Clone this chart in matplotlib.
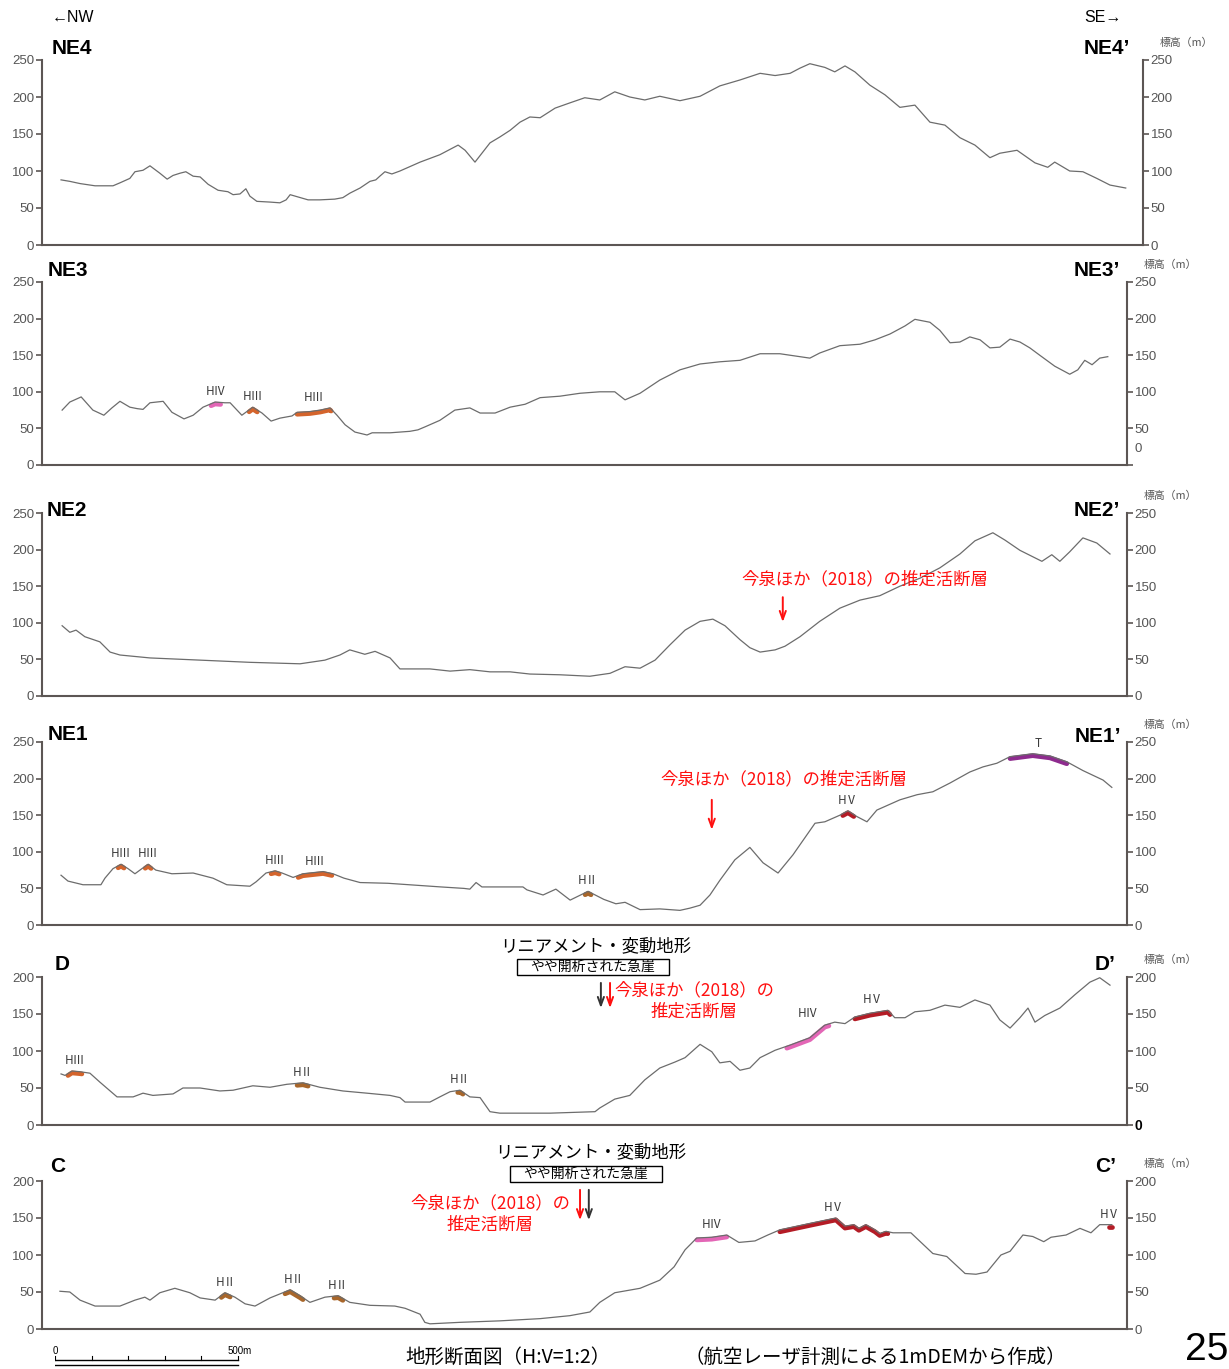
import numpy as np
import matplotlib
matplotlib.use("Agg")
import matplotlib.pyplot as plt
from matplotlib.patches import Rectangle
from matplotlib.transforms import offset_copy, ScaledTranslation

# ─── Section profiles: distance along line (m) / elevation (m) ───────
ne4_dist = [52, 76, 104, 145, 194, 213, 240, 254, 276, 295, 322, 342, 358, 377, 393,
            413, 432, 454, 481, 508, 522, 541, 557, 568, 587, 623, 650, 667, 678, 699,
            727, 759, 800, 822, 841, 869, 896, 912, 923, 937, 956, 978, 1033, 1087, 1137,
            1156, 1183, 1224, 1251, 1279, 1306, 1333, 1361, 1402, 1442, 1483, 1524, 1565,
            1606, 1647, 1688, 1743, 1798, 1852, 1907, 1962, 2003, 2044, 2071, 2098, 2139,
            2166, 2194, 2221, 2262, 2303, 2344, 2385, 2426, 2467, 2508, 2549, 2590, 2617,
            2664, 2713, 2748, 2767, 2808, 2844, 2882, 2918, 2961]
ne4_elev = [88, 86, 83, 80, 80, 84, 90, 99, 101, 107, 97, 89, 94, 97, 99,
            93, 92, 82, 74, 72, 68, 69, 76, 66, 59, 58, 57, 61, 68, 65,
            61, 61, 62, 64, 70, 77, 86, 88, 93, 99, 96, 100, 112, 122, 135,
            128, 112, 138, 146, 155, 166, 173, 172, 185, 192, 199, 196, 207,
            200, 196, 201, 195, 201, 215, 223, 232, 229, 232, 239, 245, 240,
            234, 242, 234, 216, 203, 186, 189, 166, 162, 145, 135, 118, 124,
            128, 111, 105, 112, 100, 99, 90, 81, 77]

ne3_dist = [55, 76, 107, 139, 169, 191, 213, 240, 260, 276, 295, 331, 355, 388, 413,
            440, 473, 500, 514, 546, 576, 601, 626, 650, 683, 697, 732, 760, 787, 806,
            828, 855, 888, 902, 951, 1005, 1027, 1046, 1087, 1128, 1169, 1197, 1238, 1279,
            1320, 1361, 1415, 1470, 1524, 1565, 1593, 1634, 1688, 1743, 1798, 1852, 1907,
            1962, 2016, 2057, 2098, 2125, 2180, 2235, 2276, 2317, 2358, 2385, 2426, 2453,
            2481, 2508, 2535, 2563, 2590, 2617, 2645, 2672, 2699, 2726, 2767, 2808, 2830,
            2849, 2869, 2890, 2912]
ne3_elev = [75, 86, 93, 75, 68, 78, 87, 79, 77, 76, 85, 87, 72, 63, 68,
            79, 86, 85, 85, 68, 79, 71, 60, 64, 67, 72, 73, 75, 78, 68,
            55, 45, 41, 44, 44, 46, 48, 52, 61, 75, 78, 71, 71, 79,
            83, 92, 94, 98, 100, 100, 89, 98, 116, 130, 138, 141, 143,
            152, 152, 149, 146, 153, 163, 165, 171, 179, 190, 199, 195, 184,
            167, 168, 175, 171, 160, 161, 172, 168, 160, 150, 135, 124, 130,
            143, 137, 146, 148]

ne2_dist = [55, 76, 93, 117, 158, 186, 213, 295, 432, 568, 705, 773, 814, 841, 882,
            910, 951, 978, 1060, 1115, 1169, 1224, 1279, 1333, 1415, 1497, 1552, 1593,
            1634, 1675, 1716, 1757, 1798, 1833, 1866, 1907, 1934, 1962, 2003, 2030, 2071,
            2125, 2180, 2235, 2289, 2344, 2399, 2453, 2508, 2549, 2598, 2631, 2672, 2732,
            2759, 2781, 2808, 2844, 2882, 2918]
ne2_elev = [96, 87, 90, 81, 74, 60, 56, 52, 49, 46, 44, 49, 56, 63, 57,
            61, 52, 37, 37, 34, 36, 33, 33, 30, 29, 27, 31, 40,
            38, 49, 70, 90, 102, 105, 96, 77, 66, 60, 63, 68, 81,
            102, 120, 131, 137, 150, 161, 175, 194, 212, 223, 213, 199, 184,
            193, 184, 197, 216, 209, 194]

ne1_dist = [52, 71, 112, 161, 172, 194, 216, 235, 254, 273, 290, 311, 355, 413, 467,
            505, 568, 585, 612, 637, 656, 686, 713, 768, 795, 825, 869, 945, 1003, 1090,
            1153, 1169, 1186, 1202, 1314, 1325, 1369, 1404, 1443, 1492, 1535, 1568, 1593,
            1634, 1688, 1743, 1770, 1798, 1825, 1852, 1893, 1934, 1970, 2011, 2052, 2112,
            2139, 2180, 2202, 2227, 2254, 2281, 2344, 2391, 2434, 2481, 2535, 2571, 2609,
            2645, 2707, 2754, 2800, 2844, 2899, 2923]
ne1_elev = [68, 60, 55, 55, 64, 77, 83, 77, 70, 77, 83, 75, 70, 71, 64,
            55, 53, 59, 71, 74, 71, 65, 70, 73, 70, 64, 58, 57, 55, 52,
            50, 49, 58, 52, 52, 48, 41, 49, 34, 46, 35, 29, 31,
            21, 22, 20, 23, 27, 41, 61, 89, 106, 85, 71, 96, 139,
            141, 150, 156, 148, 141, 157, 171, 178, 182, 194, 209, 216, 221,
            230, 234, 231, 223, 211, 198, 188]

d_dist = [52, 63, 82, 104, 131, 158, 205, 249, 276, 303, 358, 385, 432, 486, 522,
          576, 623, 669, 713, 759, 822, 888, 951, 978, 992, 1060, 1087, 1115, 1142, 1169,
          1197, 1224, 1251, 1388, 1511, 1524, 1565, 1606, 1647, 1688, 1729, 1757, 1798,
          1830, 1852, 1880, 1907, 1934, 1962, 2003, 2044, 2098, 2139, 2166, 2194, 2221,
          2262, 2311, 2330, 2358, 2385, 2426, 2467, 2508, 2549, 2590, 2617, 2645, 2672,
          2694, 2713, 2740, 2781, 2822, 2863, 2890, 2918]
d_elev = [69, 67, 73, 72, 70, 58, 38, 38, 43, 40, 42, 50, 50, 46, 47,
          53, 51, 55, 57, 51, 46, 43, 40, 37, 31, 31, 38, 45, 47, 38,
          37, 18, 16, 16, 18, 23, 35, 40, 61, 77, 85, 91, 109,
          99, 84, 86, 74, 77, 91, 101, 108, 118, 135, 139, 137, 146,
          151, 155, 145, 145, 153, 155, 162, 159, 169, 162, 142, 131, 145,
          158, 139, 148, 158, 176, 193, 199, 189]

c_dist = [49, 76, 104, 145, 213, 254, 281, 295, 322, 363, 404, 432, 473, 500, 527,
          555, 582, 623, 678, 705, 732, 773, 809, 841, 896, 964, 992, 1033, 1046, 1060,
          1142, 1251, 1361, 1442, 1497, 1524, 1565, 1634, 1688, 1727, 1757, 1789, 1830,
          1871, 1904, 1948, 1983, 2016, 2101, 2169, 2194, 2218, 2232, 2251, 2276, 2289,
          2306, 2325, 2374, 2434, 2472, 2522, 2552, 2582, 2620, 2645, 2680, 2707, 2737,
          2757, 2798, 2836, 2866, 2890, 2923]
c_elev = [51, 50, 39, 31, 31, 39, 43, 39, 49, 55, 49, 42, 39, 49, 43,
          34, 31, 42, 53, 45, 36, 43, 45, 36, 32, 31, 28, 20, 9, 7,
          9, 11, 14, 18, 23, 36, 49, 55, 66, 84, 107, 123, 124,
          127, 117, 119, 127, 134, 143, 150, 139, 141, 136, 141, 134, 129,
          132, 130, 130, 102, 98, 75, 74, 77, 100, 105, 127, 125, 118,
          124, 127, 136, 130, 141, 141]

# ─── Terrace surfaces: (label, from m, to m) ─────────────────────────
ne3_terraces = [("HⅣ", 462, 488), ("HⅢ", 566, 588), ("HⅢ", 697, 790)]
ne1_terraces = [("HⅢ", 208, 224), ("HⅢ", 282, 298), ("HⅢ", 626, 648), ("HⅢ", 700, 792),
                ("HⅡ", 1484, 1500), ("HⅤ", 2188, 2218), ("T", 2645, 2800)]
d_terraces = [("HⅢ", 71, 109), ("HⅡ", 697, 727), ("HⅡ", 1136, 1150),
              ("HⅣ", 2035, 2150), ("HⅤ", 2221, 2317)]
c_terraces = [("HⅡ", 490, 514), ("HⅡ", 664, 713), ("HⅡ", 798, 822),
              ("HⅣ", 1789, 1871), ("HⅤ", 2016, 2311), ("HⅤ", 2915, 2923)]

TERRACE_COLORS = {"HⅡ": "#a8662a", "HⅢ": "#d4642c", "HⅣ": "#e366b6",
                  "HⅤ": "#b41c26", "T": "#8e2b8e"}

# Estimated active fault (Imaizumi et al. 2018) and lineament positions (m)
ne2_fault = 2024
ne1_fault = 1830
d_fault, d_lineament = 1552, 1527
c_fault, c_lineament = 1470, 1494

# ─── Figure / layout ────────────────────────────────────────────────
W, H = 1229, 1369
M_PER_PX = 500 / 183          # horizontal scale, H:V = 1:2
AXIS_C = "#5c5654"
TICK_C = "#555555"
LINE_C = "#6c6c6c"
RED = "#ff1010"
JP = ["Noto Sans CJK JP", "DejaVu Sans"]
NUM = ["Liberation Sans Narrow", "Liberation Sans", "DejaVu Sans"]
LAT = ["Liberation Sans", "DejaVu Sans"]

fig = plt.figure(figsize=(W / 100, H / 100), dpi=100, facecolor="white")


def ftext(x, y, s, **kw):
    """Text placed in figure pixel coordinates (origin top-left)."""
    return fig.text(x / W, 1 - y / H, s, **kw)


def fbox(x0, y0, x1, y1):
    fig.patches.append(Rectangle((x0 / W, 1 - y1 / H), (x1 - x0) / W, (y1 - y0) / H,
                                 transform=fig.transFigure, fill=False,
                                 ec="black", lw=1.0))


def add_panel(left, top, right, bottom, ymax):
    ax = fig.add_axes([left / W, 1 - bottom / H, (right - left) / W, (bottom - top) / H])
    ax.set_xlim(0, (right - left) * M_PER_PX)
    ax.set_ylim(0, ymax)
    ax.set_xticks([])
    ax.set_yticks(np.arange(0, ymax + 1, 50))
    ax.patch.set_alpha(0)
    ax.spines["top"].set_visible(False)
    for s in ("left", "right", "bottom"):
        ax.spines[s].set_color(AXIS_C)
        ax.spines[s].set_linewidth(1.5)
    ax.tick_params(axis="y", left=True, right=True, labelleft=True, labelright=True,
                   direction="out", length=4, width=1.2, color=AXIS_C,
                   labelcolor=TICK_C, labelsize=9.5, pad=1.5)
    for lab in ax.get_yticklabels():
        lab.set_family(NUM)
    ftext(right + 17, top - 17, "標高（m）", family=JP, fontsize=7.8, color=TICK_C,
          va="center", ha="left")
    return ax


def draw_profile(ax, dist, elev, terraces):
    dist = np.asarray(dist, float)
    elev = np.asarray(elev, float)
    below = offset_copy(ax.transData, fig=fig, y=-1.4, units="points")
    for label, d0, d1 in terraces:
        inside = (dist > d0) & (dist < d1)
        seg_d = np.concatenate([[d0], dist[inside], [d1]])
        seg_e = np.interp(seg_d, dist, elev)
        ax.plot(seg_d, seg_e, color=TERRACE_COLORS[label], lw=3.4,
                solid_capstyle="round", solid_joinstyle="round",
                transform=below, zorder=2)
        ax.annotate(label, xy=((d0 + d1) / 2, seg_e.max()), xytext=(0, 7.5),
                    textcoords="offset points", ha="center", va="center",
                    family=JP, fontsize=8.5, color="#3c3c3c")
    ax.plot(dist, elev, color=LINE_C, lw=0.9, zorder=3)


def fault_arrow(ax, d, tail, tip, color):
    ax.annotate("", xy=(d, tip), xytext=(d, tail), annotation_clip=False,
                arrowprops=dict(arrowstyle="->,head_length=0.6,head_width=0.22",
                                color=color, lw=1.4, shrinkA=0, shrinkB=0))


# Panels: NE4 ... C
ax4 = add_panel(42, 60, 1143, 245, 250)
draw_profile(ax4, ne4_dist, ne4_elev, [])
ax3 = add_panel(42, 282, 1127, 465, 250)
draw_profile(ax3, ne3_dist, ne3_elev, ne3_terraces)
ax2 = add_panel(42, 513, 1127, 696, 250)
draw_profile(ax2, ne2_dist, ne2_elev, [])
ax1 = add_panel(42, 742, 1127, 925, 250)
draw_profile(ax1, ne1_dist, ne1_elev, ne1_terraces)
axd = add_panel(42, 977, 1127, 1125, 200)
draw_profile(axd, d_dist, d_elev, d_terraces)
axc = add_panel(42, 1181, 1127, 1329, 200)
draw_profile(axc, c_dist, c_elev, c_terraces)

# NE3 right-hand zero label sits a little above the base line
zero3 = ax3.yaxis.get_major_ticks()[0].label2
zero3.set_transform(zero3.get_transform() + ScaledTranslation(0, 0.17, fig.dpi_scale_trans))

# bold black zero on the D section's right scale
zero_d = axd.yaxis.get_major_ticks()[0].label2
zero_d.set_color("black")
zero_d.set_fontweight("bold")
zero_d.set_fontsize(10)

# Section names
name_kw = dict(family=LAT, fontsize=15, fontweight="bold", va="center")
for (xl, yl, xr, yr, nm) in [(52, 48, 1130, 48, "NE4"), (48, 270, 1120, 270, "NE3"),
                             (47, 510, 1120, 510, "NE2"), (48, 734, 1121, 736, "NE1"),
                             (55, 965, 1115, 965, "D"), (50, 1166, 1116, 1166, "C")]:
    ftext(xl, yl, nm, ha="left", **name_kw)
    ftext(xr, yr, nm + "’", ha="right", **name_kw)

ftext(52, 17, "←NW", family=LAT, fontsize=11.5, ha="left", va="center")
ftext(1122, 17, "SE→", family=LAT, fontsize=11.5, ha="right", va="center")

# Imaizumi et al. (2018) estimated active fault
red_kw = dict(family=JP, fontsize=12.5, color=RED, ha="center", va="center")
fault_arrow(ax2, ne2_fault, 135, 101, RED)
ftext(865, 579, "今泉ほか（2018）の推定活断層", **red_kw)
fault_arrow(ax1, ne1_fault, 171, 130, RED)
ftext(784, 779, "今泉ほか（2018）の推定活断層", **red_kw)

fault_arrow(axd, d_lineament, 192, 158, "#333333")
fault_arrow(axd, d_fault, 192, 158, RED)
ftext(596, 946, "リニアメント・変動地形", family=JP, fontsize=12.5, ha="center", va="center")
ftext(593, 967, "やや開析された急崖", family=JP, fontsize=10, ha="center", va="center")
fbox(517, 959, 669, 975)
ftext(694, 1001, "今泉ほか（2018）の\n推定活断層", linespacing=1.25, **red_kw)

fault_arrow(axc, c_lineament, 188, 147, "#333333")
fault_arrow(axc, c_fault, 188, 147, RED)
ftext(591, 1152, "リニアメント・変動地形", family=JP, fontsize=12.5, ha="center", va="center")
ftext(586, 1174, "やや開析された急崖", family=JP, fontsize=10, ha="center", va="center")
fbox(510, 1166, 662, 1182)
ftext(490, 1214, "今泉ほか（2018）の\n推定活断層", linespacing=1.25, **red_kw)

# Scale bar (500 m, ticks every 100 m)
sb = fig.add_axes([55 / W, 1 - 1368 / H, 300 / W, 14 / H])
sb.set_xlim(0, 300 * M_PER_PX)
sb.set_ylim(0, 1)
sb.axis("off")
sb.plot([0, 500], [0.55, 0.55], color="black", lw=1.0)
sb.plot([0, 500], [0.25, 0.25], color="black", lw=1.0)
for t in np.arange(0, 501, 100):
    sb.plot([t, t], [0.55, 0.85], color="black", lw=0.8)
ftext(55, 1351, "0", family=NUM, fontsize=7, ha="center", va="center")
ftext(240, 1351, "500m", family=NUM, fontsize=7, ha="center", va="center")

ftext(405, 1368, "地形断面図（H:V=1:2）", family=JP, fontsize=14, ha="left", va="bottom")
ftext(685, 1368, "（航空レーザ計測による1mDEMから作成）", family=JP, fontsize=14,
      ha="left", va="bottom")
ftext(1185, 1350, "25", family=NUM, fontsize=28, ha="left", va="center")

fig.savefig("out.png", dpi=100, facecolor="white")
